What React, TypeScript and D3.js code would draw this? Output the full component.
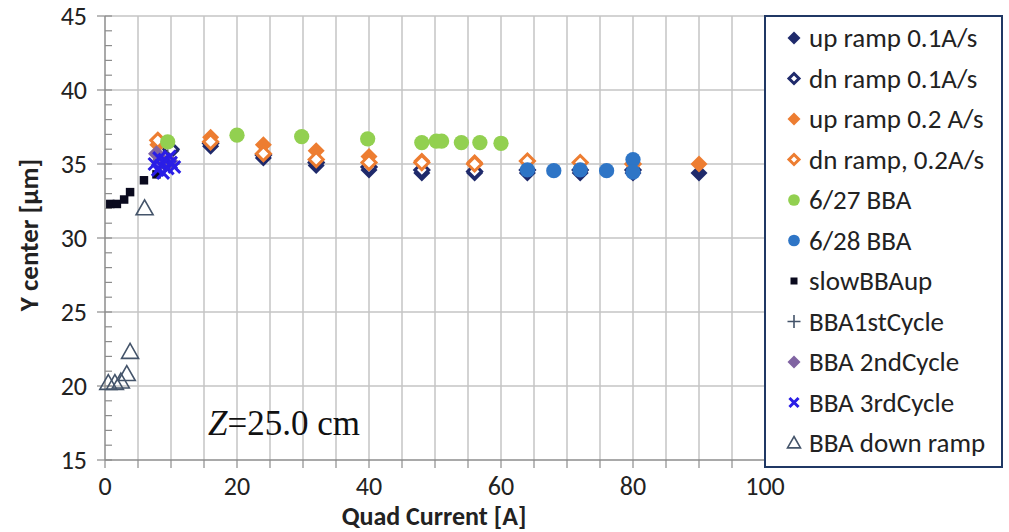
import React from 'react';
import * as d3 from 'd3';

// series values
const upRamp01X = [10, 16, 24, 32, 40, 48, 56, 64, 72, 80, 90];
const upRamp01Y = [35.9, 36.2, 35.4, 34.9, 34.6, 34.4, 34.4, 34.4, 34.4, 34.4, 34.4];
const dnRamp01X = [10, 16, 24, 32, 40, 48, 56, 64, 72, 80];
const dnRamp01Y = [36.0, 36.4, 35.6, 35.1, 34.8, 34.6, 34.5, 34.6, 34.6, 34.6];
const upRamp02X = [8, 16, 24, 32, 40, 48, 56, 80, 90];
const upRamp02Y = [36.3, 36.8, 36.3, 35.9, 35.5, 35.2, 35.1, 35.0, 35.0];
const dnRamp02X = [8, 16, 24, 32, 40, 48, 56, 64, 72, 80];
const dnRamp02Y = [36.6, 36.5, 35.7, 35.3, 35.1, 35.1, 35.0, 35.2, 35.1, 35.0];
const bba627X = [9.5, 20, 29.8, 39.8, 48, 50.2, 51, 54, 56.8, 60];
const bba627Y = [36.5, 36.95, 36.85, 36.7, 36.45, 36.55, 36.55, 36.45, 36.45, 36.4];
const bba628X = [64, 68, 72, 76, 80, 80];
const bba628Y = [34.6, 34.55, 34.6, 34.55, 35.3, 34.45];
const slowX = [0.8, 1.8, 2.9, 3.8, 5.9, 7.8];
const slowY = [32.3, 32.3, 32.6, 33.1, 33.9, 34.3];
const cyc1X = [8.5, 9, 9.5, 10];
const cyc1Y = [35.2, 34.8, 35.4, 35.0];
const cyc2X = [7.8, 8.5, 9.2, 9.8];
const cyc2Y = [35.7, 35.3, 35.0, 35.2];
const cyc3X = [7.5, 8, 8.5, 9, 9.5, 10, 10.5, 8.2, 9.8, 8.8];
const cyc3Y = [35.0, 34.6, 34.9, 35.3, 34.7, 35.1, 34.8, 35.4, 35.5, 34.4];
const downX = [0.5, 1.5, 2.4, 3.3, 3.8, 6.0];
const downY = [20.2, 20.2, 20.3, 20.8, 22.3, 32.0];

const xTicks = [0, 20, 40, 60, 80, 100];
const yTicks = [15, 20, 25, 30, 35, 40, 45];

type Marker = 'diamond' | 'diamondOpen' | 'circle' | 'square' | 'plus' | 'cross' | 'triangle';

const series: { name: string; xs: number[]; ys: number[]; marker: Marker; color: string }[] = [
  { name: 'up ramp 0.1A/s', xs: upRamp01X, ys: upRamp01Y, marker: 'diamond', color: '#1f2a6b' },
  { name: 'dn ramp 0.1A/s', xs: dnRamp01X, ys: dnRamp01Y, marker: 'diamondOpen', color: '#1f2a6b' },
  { name: 'up ramp 0.2 A/s', xs: upRamp02X, ys: upRamp02Y, marker: 'diamond', color: '#ed7d31' },
  { name: 'dn ramp, 0.2A/s', xs: dnRamp02X, ys: dnRamp02Y, marker: 'diamondOpen', color: '#ed7d31' },
  { name: '6/27 BBA', xs: bba627X, ys: bba627Y, marker: 'circle', color: '#92d050' },
  { name: '6/28 BBA', xs: bba628X, ys: bba628Y, marker: 'circle', color: '#2e75c6' },
  { name: 'slowBBAup', xs: slowX, ys: slowY, marker: 'square', color: '#0a0a1e' },
  { name: 'BBA1stCycle', xs: cyc1X, ys: cyc1Y, marker: 'plus', color: '#44546a' },
  { name: 'BBA 2ndCycle', xs: cyc2X, ys: cyc2Y, marker: 'diamond', color: '#8064a2' },
  { name: 'BBA 3rdCycle', xs: cyc3X, ys: cyc3Y, marker: 'cross', color: '#2a1ee6' },
  { name: 'BBA down ramp', xs: downX, ys: downY, marker: 'triangle', color: '#44546a' },
];

const drawMarker = (m: Marker, color: string, cx: number, cy: number, s: number, key: string) => {
  switch (m) {
    case 'diamond':
      return <path key={key} d={`M${cx},${cy - s}L${cx + s},${cy}L${cx},${cy + s}L${cx - s},${cy}Z`} fill={color} />;
    case 'diamondOpen': {
      const r = s - 1.5;
      return <path key={key} d={`M${cx},${cy - r}L${cx + r},${cy}L${cx},${cy + r}L${cx - r},${cy}Z`} fill="white" stroke={color} strokeWidth={3} />;
    }
    case 'circle':
      return <circle key={key} cx={cx} cy={cy} r={s * 0.9} fill={color} />;
    case 'square':
      return <rect key={key} x={cx - s * 0.5} y={cy - s * 0.5} width={s} height={s} fill={color} />;
    case 'plus':
      return <path key={key} d={`M${cx - s},${cy}H${cx + s}M${cx},${cy - s}V${cy + s}`} stroke={color} strokeWidth={1.6} />;
    case 'cross': {
      const r = s * 0.7;
      return <path key={key} d={`M${cx - r},${cy - r}L${cx + r},${cy + r}M${cx - r},${cy + r}L${cx + r},${cy - r}`} stroke={color} strokeWidth={3} />;
    }
    case 'triangle':
      return <path key={key} d={`M${cx},${cy - s}L${cx + s},${cy + s * 0.75}L${cx - s},${cy + s * 0.75}Z`} fill="none" stroke={color} strokeWidth={1.6} />;
  }
};

const App = () => {
  const width = 1009;
  const height = 532;
  const x = d3.scaleLinear().domain([0, 100]).range([105, 765]);
  const y = d3.scaleLinear().domain([15, 45]).range([460, 16]);
  const font = 'Carlito, "Open Sans", "Liberation Sans", sans-serif';

  const legX = 765;
  const legY = 16;
  const legW = 237;
  const legH = 451;

  return (
    <svg width={width} height={height} style={{ position: 'absolute', left: 0, top: 0, background: 'white' }}>
      {/* grid */}
      {d3.range(5, 101, 5).map((v) => (
        <line key={'gx' + v} x1={x(v)} x2={x(v)} y1={y(15)} y2={y(45)} stroke="#c4c4c4" strokeWidth={1.5} />
      ))}
      {d3.range(20, 46, 5).map((v) => (
        <line key={'gy' + v} x1={x(0)} x2={x(100)} y1={y(v)} y2={y(v)} stroke="#c4c4c4" strokeWidth={1.5} />
      ))}
      {/* axes */}
      <line x1={x(0)} x2={x(0)} y1={y(15)} y2={y(45)} stroke="#8c8c8c" strokeWidth={1.5} />
      <line x1={x(0)} x2={x(100)} y1={y(15)} y2={y(15)} stroke="#8c8c8c" strokeWidth={1.5} />
      {d3.range(15, 46, 1).map((v) => (
        <line key={'my' + v} x1={x(0)} x2={x(0) + 7} y1={y(v)} y2={y(v)} stroke="#8c8c8c" strokeWidth={1.2} />
      ))}
      {yTicks.map((v) => (
        <g key={'ty' + v}>
          <line x1={x(0) - 8} x2={x(0)} y1={y(v)} y2={y(v)} stroke="#8c8c8c" strokeWidth={1.2} />
          <text x={87} y={y(v) + 9} textAnchor="end" fontFamily={font} fontSize={26} fill="#222">{v}</text>
        </g>
      ))}
      {d3.range(0, 101, 5).map((v) => (
        <line key={'tx' + v} x1={x(v)} x2={x(v)} y1={y(15)} y2={y(15) + 8} stroke="#8c8c8c" strokeWidth={1.2} />
      ))}
      {xTicks.map((v) => (
        <text key={'lx' + v} x={x(v)} y={495} textAnchor="middle" fontFamily={font} fontSize={26} fill="#222">{v}</text>
      ))}
      <text x={434} y={525} textAnchor="middle" fontFamily={font} fontSize={26} fontWeight="bold" fill="#222">Quad Current [A]</text>
      <text transform={`translate(38,235) rotate(-90)`} textAnchor="middle" fontFamily={font} fontSize={27} fontWeight="bold" fill="#222">Y center [µm]</text>
      <text x={208} y={435} fontFamily='"Liberation Serif", "DejaVu Serif", serif' fontSize={35} fill="#111">
        <tspan fontStyle="italic">Z</tspan>=25.0 cm
      </text>
      {/* points */}
      {series.map((s, i) => (
        <g key={'s' + i}>
          {s.xs.map((xv, j) => drawMarker(s.marker, s.color, x(xv), y(s.ys[j]), 8.5, `p${i}-${j}`))}
        </g>
      ))}
      {/* legend */}
      <rect x={legX} y={legY} width={legW} height={legH} fill="white" stroke="#203864" strokeWidth={2} />
      {series.map((s, i) => {
        const cy = 38 + i * 40.5;
        return (
          <g key={'leg' + i}>
            {drawMarker(s.marker, s.color, 794, cy, s.marker === 'square' ? 7 : 6.5, 'lm' + i)}
            <text x={809} y={cy + 9} fontFamily={font} fontSize={27} fill="#222">{s.name}</text>
          </g>
        );
      })}
    </svg>
  );
};

export default App;
